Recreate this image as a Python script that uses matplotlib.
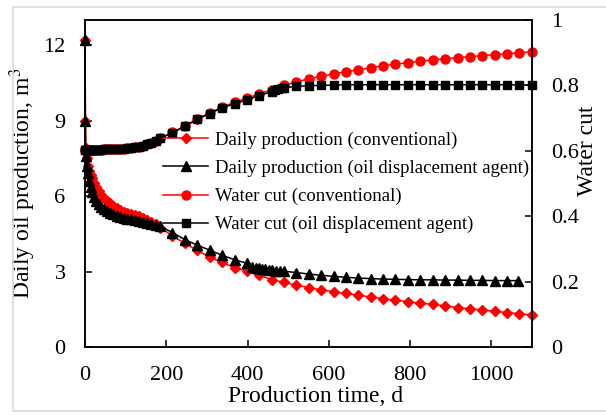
import matplotlib
matplotlib.use("Agg")
import matplotlib.pyplot as plt
from matplotlib.patches import Rectangle

plt.rcParams["font.family"] = ["Liberation Serif", "DejaVu Serif"]
plt.rcParams["mathtext.fontset"] = "stix"

# production time, d
t_early = [0, 1, 2, 4, 7, 10, 14, 18, 23, 28, 34, 40, 47, 54, 62, 70, 78, 86,
           95, 104, 113, 122, 132, 142, 152, 163, 174]
t_month = [185, 215, 246, 276, 307, 337, 368, 398, 429, 459, 490, 520, 551,
           581, 612, 642, 673, 703, 734, 764, 795, 825, 856, 886, 917, 947,
           978, 1008, 1039, 1069, 1100]

# daily oil production (conventional)
t_oil_conv = t_early + t_month
oil_conv = [12.2, 9.0, 7.9, 7.5, 7.2, 7.0, 6.85, 6.7, 6.5, 6.35, 6.2, 6.05,
            5.93, 5.82, 5.72, 5.62, 5.52, 5.44, 5.38, 5.33, 5.28, 5.24, 5.19,
            5.12, 5.03, 4.95, 4.88,
            4.75, 4.42, 4.12, 3.84, 3.57, 3.36, 3.16, 3.02, 2.85, 2.68, 2.57,
            2.46, 2.36, 2.27, 2.2, 2.13, 2.06, 1.99, 1.92, 1.86, 1.8, 1.75,
            1.69, 1.64, 1.57, 1.52, 1.47, 1.42, 1.37, 1.32, 1.27]

# daily oil production (oil displacement agent)
t_oil_agent = t_early + [185, 215, 246, 276, 307, 337, 368, 398, 412, 420,
                         428, 436, 444, 452, 460, 470, 480, 490, 520, 551,
                         581, 612, 642, 673, 703, 734, 764, 795, 825, 856,
                         886, 917, 947, 978, 1008, 1039, 1066]
oil_agent = [12.2, 9.0, 7.6, 7.2, 6.9, 6.6, 6.35, 6.15, 5.95, 5.8, 5.67, 5.57,
             5.48, 5.4, 5.33, 5.27, 5.22, 5.18, 5.14, 5.1, 5.07, 5.04, 5.01,
             4.98, 4.94, 4.9, 4.85,
             4.8, 4.55, 4.27, 4.05, 3.85, 3.65, 3.47, 3.33, 3.2, 3.16, 3.13,
             3.11, 3.09, 3.07, 3.06, 3.04, 3.02, 3.01, 2.96, 2.9, 2.85, 2.81,
             2.77, 2.74, 2.72, 2.7, 2.69, 2.68, 2.67, 2.67, 2.66, 2.66, 2.65,
             2.65, 2.64, 2.64, 2.64]

# water cut (conventional)
t_wc_conv = t_early + t_month
wc_conv = [0.603, 0.603, 0.603, 0.603, 0.603, 0.603, 0.603, 0.603, 0.603,
           0.603, 0.603, 0.603, 0.604, 0.604, 0.604, 0.605, 0.605, 0.606,
           0.607, 0.608, 0.609, 0.611, 0.613, 0.616, 0.62, 0.625, 0.63,
           0.638, 0.656, 0.676, 0.698, 0.716, 0.734, 0.748, 0.761, 0.774,
           0.787, 0.8, 0.811, 0.82, 0.828, 0.835, 0.842, 0.848, 0.854, 0.86,
           0.865, 0.87, 0.874, 0.878, 0.882, 0.885, 0.888, 0.891, 0.894,
           0.897, 0.9, 0.903]

# water cut (oil displacement agent)
t_wc_agent = t_early + [185, 215, 246, 276, 307, 337, 368, 398, 429,
                        459, 468, 476, 484, 490,
                        520, 551, 581, 612,
                        642, 673, 703, 734, 764, 795, 825, 856,
                        886, 917, 947, 978, 1008, 1039, 1069, 1100]
wc_agent = [0.603, 0.603, 0.603, 0.603, 0.603, 0.603, 0.603, 0.603, 0.603,
            0.603, 0.603, 0.603, 0.604, 0.604, 0.604, 0.605, 0.605, 0.606,
            0.607, 0.608, 0.609, 0.611, 0.613, 0.616, 0.62, 0.625, 0.63,
            0.638, 0.655, 0.675, 0.696, 0.714, 0.731, 0.744, 0.756, 0.769,
            0.781, 0.785, 0.788, 0.791, 0.793,
            0.797, 0.799, 0.8, 0.801,
            0.802, 0.802, 0.802, 0.802, 0.802, 0.802, 0.802, 0.802,
            0.802, 0.802, 0.802, 0.802, 0.802, 0.802, 0.801, 0.801]

fig = plt.figure(figsize=(6.06, 4.15), dpi=100)
fig.patches.append(Rectangle((13 / 606, 1 - 411 / 415), 1.0, (411 - 7) / 415,
                             transform=fig.transFigure, fill=False,
                             edgecolor="#d9d9d9", linewidth=1.2))

ax = fig.add_axes([85 / 606, 68 / 415, 447 / 606, 327 / 415])
ax2 = ax.twinx()

lw = 1.1
h1, = ax.plot(t_oil_conv, oil_conv, color="red", marker="D", ms=5.5, lw=lw,
              clip_on=False, label="Daily production (conventional)")
h2, = ax.plot(t_oil_agent, oil_agent, color="black", marker="^", ms=6.5,
              lw=lw, clip_on=False,
              label="Daily production (oil displacement agent)")
h3, = ax2.plot(t_wc_conv, wc_conv, color="red", marker="o", ms=6.5, lw=lw,
               clip_on=False, label="Water cut (conventional)")
h4, = ax2.plot(t_wc_agent, wc_agent, color="black", marker="s", ms=6, lw=lw,
               clip_on=False, label="Water cut (oil displacement agent)")

ax.set_xlim(0, 1100)
ax.set_ylim(0, 13)
ax2.set_ylim(0, 1)
ax.set_xticks([0, 200, 400, 600, 800, 1000])
ax.set_yticks([0, 3, 6, 9, 12])
ax2.set_yticks([0, 0.2, 0.4, 0.6, 0.8, 1.0])
ax2.set_yticklabels(["0", "0.2", "0.4", "0.6", "0.8", "1"])

for a in (ax, ax2):
    for s in a.spines.values():
        s.set_linewidth(1.1)
ax.tick_params(axis="both", direction="in", length=5, width=1.1,
               labelsize=16, pad=14)
ax2.tick_params(axis="y", direction="in", length=5, width=1.1,
                labelsize=16, pad=14)

ax.set_xlabel("Production time, d", fontsize=17)
ax.xaxis.set_label_coords(0.515, -0.118)
ax.set_ylabel("Daily oil production, m$^3$", fontsize=17, labelpad=4)
ax2.set_ylabel("Water cut", fontsize=17, labelpad=4)
ax2.yaxis.set_label_coords(1.1, 0.6)

ax2.legend(handles=[h1, h2, h3, h4], loc="center left",
           bbox_to_anchor=(0.175, 0.503), frameon=False, fontsize=13.5,
           borderpad=0, borderaxespad=0, handlelength=2.4, handletextpad=0.35,
           labelspacing=0.58)

fig.savefig("out.png", dpi=100)
